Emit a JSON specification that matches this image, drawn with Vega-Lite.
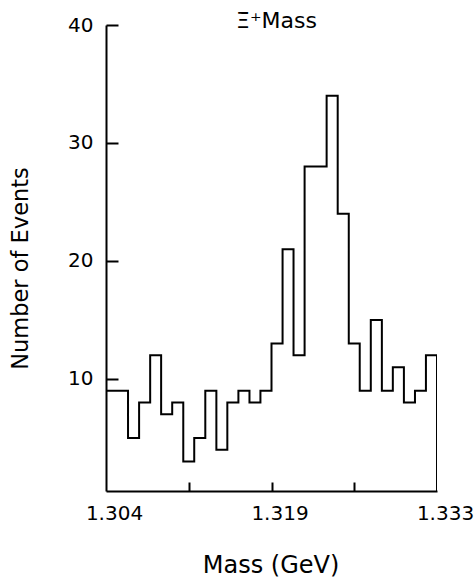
{
  "$schema": "https://vega.github.io/schema/vega-lite/v6.json",
  "autosize": {"type": "none"},
  "width": 331,
  "height": 466,
  "padding": {"left": 106, "top": 25, "right": 37, "bottom": 91},
  "background": "white",
  "config": {
    "view": {"stroke": null},
    "font": "DejaVu Sans"
  },
  "title": {
    "text": "Ξ̄⁺Mass",
    "fontSize": 22,
    "fontWeight": "normal",
    "font": "DejaVu Sans",
    "color": "black",
    "anchor": "middle",
    "frame": "group",
    "baseline": "alphabetic",
    "offset": -35,
    "dx": 5
  },
  "data": {
    "values": [
      {"mass": 1.30400, "events": 9},
      {"mass": 1.30497, "events": 9},
      {"mass": 1.30593, "events": 5},
      {"mass": 1.30690, "events": 8},
      {"mass": 1.30787, "events": 12},
      {"mass": 1.30883, "events": 7},
      {"mass": 1.30980, "events": 8},
      {"mass": 1.31077, "events": 3},
      {"mass": 1.31173, "events": 5},
      {"mass": 1.31270, "events": 9},
      {"mass": 1.31367, "events": 4},
      {"mass": 1.31463, "events": 8},
      {"mass": 1.31560, "events": 9},
      {"mass": 1.31657, "events": 8},
      {"mass": 1.31753, "events": 9},
      {"mass": 1.31850, "events": 13},
      {"mass": 1.31947, "events": 21},
      {"mass": 1.32043, "events": 12},
      {"mass": 1.32140, "events": 28},
      {"mass": 1.32237, "events": 28},
      {"mass": 1.32333, "events": 34},
      {"mass": 1.32430, "events": 24},
      {"mass": 1.32527, "events": 13},
      {"mass": 1.32623, "events": 9},
      {"mass": 1.32720, "events": 15},
      {"mass": 1.32817, "events": 9},
      {"mass": 1.32913, "events": 11},
      {"mass": 1.33010, "events": 8},
      {"mass": 1.33107, "events": 9},
      {"mass": 1.33203, "events": 12},
      {"mass": 1.33300, "events": 12},
      {"mass": 1.33300, "events": 0}
    ]
  },
  "resolve": {"axis": {"x": "independent", "y": "independent"}},
  "layer": [
    {
      "mark": {"type": "line", "interpolate": "step-after", "color": "black", "strokeWidth": 2, "clip": true},
      "encoding": {
        "x": {
          "field": "mass",
          "type": "quantitative",
          "sort": null,
          "scale": {"domain": [1.304, 1.333], "nice": false, "zero": false},
          "axis": {
            "orient": "bottom",
            "values": [1.304, 1.3185, 1.333],
            "labelExpr": "abs(datum.value-1.304)<1e-6 ? '1.304' : abs(datum.value-1.3185)<1e-6 ? '1.319' : '1.333'",
            "labelFlush": false,
            "labelOverlap": false,
            "labelBound": false,
            "labelFontSize": 20,
            "labelColor": "black",
            "labelOffset": 8,
            "labelPadding": 12,
            "ticks": false,
            "tickSize": 0,
            "domainColor": "black",
            "domainWidth": 2,
            "grid": false,
            "title": "Mass (GeV)",
            "titleFontSize": 24,
            "titleFontWeight": "normal",
            "titleColor": "black",
            "titleX": 164.5,
            "titleY": 62
          }
        },
        "y": {
          "field": "events",
          "type": "quantitative",
          "scale": {"domain": [0.5, 40], "nice": false, "zero": false},
          "axis": {
            "orient": "left",
            "values": [10, 20, 30, 40],
            "labelFontSize": 20,
            "labelColor": "black",
            "labelPadding": 13,
            "labelDy": 2,
            "labelOverlap": false,
            "labelFlush": false,
            "ticks": false,
            "tickSize": 0,
            "domainColor": "black",
            "domainWidth": 2,
            "grid": false,
            "title": "Number of Events",
            "titleFontSize": 22.5,
            "titleFontWeight": "normal",
            "titleColor": "black",
            "titleX": -74,
            "titleY": 243
          }
        }
      }
    },
    {
      "mark": {"type": "point", "opacity": 0},
      "encoding": {
        "x": {
          "field": "mass",
          "type": "quantitative",
          "axis": {
            "orient": "bottom",
            "offset": -9,
            "values": [1.31125, 1.3185, 1.32575],
            "domain": false,
            "labels": false,
            "ticks": true,
            "tickSize": 9,
            "tickWidth": 2,
            "tickColor": "black",
            "grid": false,
            "title": null
          }
        },
        "y": {
          "field": "events",
          "type": "quantitative",
          "axis": {
            "orient": "left",
            "offset": -12,
            "values": [10, 20, 30, 40],
            "domain": false,
            "labels": false,
            "ticks": true,
            "tickSize": 12,
            "tickWidth": 2,
            "tickColor": "black",
            "grid": false,
            "title": null
          }
        }
      }
    }
  ]
}
